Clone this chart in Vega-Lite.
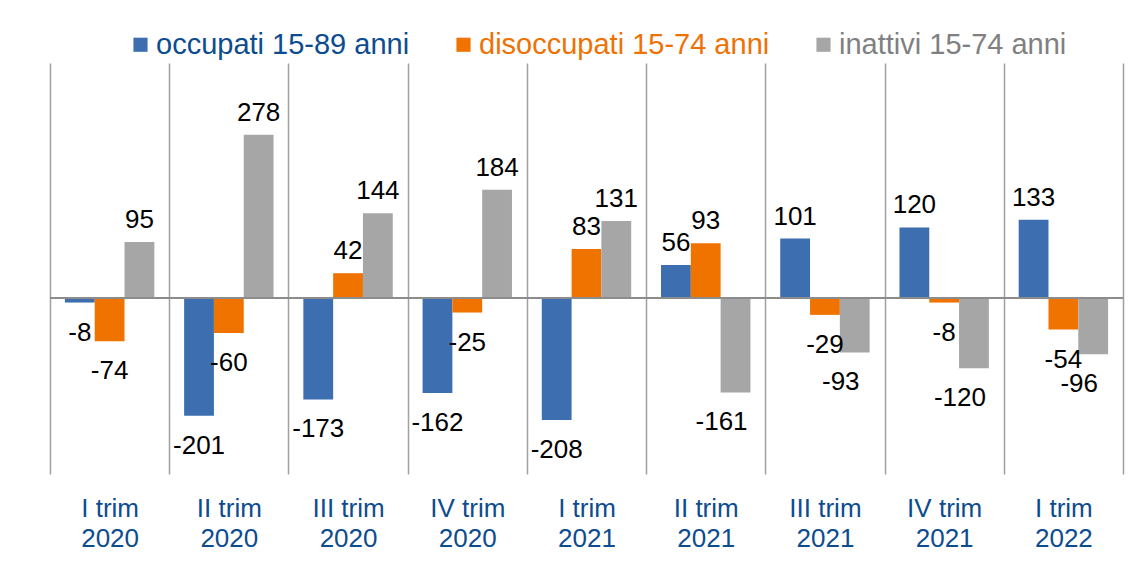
{
  "$schema": "https://vega.github.io/schema/vega-lite/v6.json",
  "autosize": {"type": "none"},
  "width": 1073,
  "height": 411,
  "padding": {"left": 50, "top": 63, "right": 19, "bottom": 96},
  "background": "white",
  "config": {"view": {"stroke": null}, "font": "Liberation Sans"},
  "data": {
    "values": [
      {"trimestre": "I trim 2020", "serie": "occupati 15-89 anni", "valore": -8},
      {"trimestre": "I trim 2020", "serie": "disoccupati 15-74 anni", "valore": -74},
      {"trimestre": "I trim 2020", "serie": "inattivi 15-74 anni", "valore": 95},
      {"trimestre": "II trim 2020", "serie": "occupati 15-89 anni", "valore": -201},
      {"trimestre": "II trim 2020", "serie": "disoccupati 15-74 anni", "valore": -60},
      {"trimestre": "II trim 2020", "serie": "inattivi 15-74 anni", "valore": 278},
      {"trimestre": "III trim 2020", "serie": "occupati 15-89 anni", "valore": -173},
      {"trimestre": "III trim 2020", "serie": "disoccupati 15-74 anni", "valore": 42},
      {"trimestre": "III trim 2020", "serie": "inattivi 15-74 anni", "valore": 144},
      {"trimestre": "IV trim 2020", "serie": "occupati 15-89 anni", "valore": -162},
      {"trimestre": "IV trim 2020", "serie": "disoccupati 15-74 anni", "valore": -25},
      {"trimestre": "IV trim 2020", "serie": "inattivi 15-74 anni", "valore": 184},
      {"trimestre": "I trim 2021", "serie": "occupati 15-89 anni", "valore": -208},
      {"trimestre": "I trim 2021", "serie": "disoccupati 15-74 anni", "valore": 83},
      {"trimestre": "I trim 2021", "serie": "inattivi 15-74 anni", "valore": 131},
      {"trimestre": "II trim 2021", "serie": "occupati 15-89 anni", "valore": 56},
      {"trimestre": "II trim 2021", "serie": "disoccupati 15-74 anni", "valore": 93},
      {"trimestre": "II trim 2021", "serie": "inattivi 15-74 anni", "valore": -161},
      {"trimestre": "III trim 2021", "serie": "occupati 15-89 anni", "valore": 101},
      {"trimestre": "III trim 2021", "serie": "disoccupati 15-74 anni", "valore": -29},
      {"trimestre": "III trim 2021", "serie": "inattivi 15-74 anni", "valore": -93},
      {"trimestre": "IV trim 2021", "serie": "occupati 15-89 anni", "valore": 120},
      {"trimestre": "IV trim 2021", "serie": "disoccupati 15-74 anni", "valore": -8},
      {"trimestre": "IV trim 2021", "serie": "inattivi 15-74 anni", "valore": -120},
      {"trimestre": "I trim 2022", "serie": "occupati 15-89 anni", "valore": 133},
      {"trimestre": "I trim 2022", "serie": "disoccupati 15-74 anni", "valore": -54},
      {"trimestre": "I trim 2022", "serie": "inattivi 15-74 anni", "valore": -96}
    ]
  },
  "encoding": {
    "x": {
      "field": "trimestre",
      "type": "nominal",
      "sort": ["I trim 2020", "II trim 2020", "III trim 2020", "IV trim 2020", "I trim 2021", "II trim 2021", "III trim 2021", "IV trim 2021", "I trim 2022"],
      "scale": {"paddingInner": 0, "paddingOuter": 0},
      "axis": {
        "title": null,
        "grid": true,
        "tickBand": "extent",
        "gridColor": "#a0a0a0",
        "gridWidth": 1.5,
        "domain": false,
        "ticks": false,
        "tickSize": 0,
        "labelAngle": 0,
        "labelFont": "Liberation Sans",
        "labelFontSize": 26,
        "labelColor": "#0d4c8f",
        "labelLineHeight": 30,
        "labelPadding": 21,
        "labelBaseline": "top",
        "labelExpr": "[slice(datum.label, 0, lastindexof(datum.label, ' ')), slice(datum.label, lastindexof(datum.label, ' ') + 1)]"
      }
    },
    "xOffset": {
      "field": "serie",
      "type": "nominal",
      "scale": {"domain": ["occupati 15-89 anni", "disoccupati 15-74 anni", "inattivi 15-74 anni"], "paddingInner": 0, "paddingOuter": 0.5}
    },
    "y": {
      "field": "valore",
      "type": "quantitative",
      "scale": {"domain": [-300, 400], "nice": false, "zero": false},
      "axis": null
    }
  },
  "layer": [
    {
      "mark": {"type": "bar"},
      "encoding": {
        "color": {
          "field": "serie",
          "type": "nominal",
          "scale": {"domain": ["occupati 15-89 anni", "disoccupati 15-74 anni", "inattivi 15-74 anni"], "range": ["#3d6fb0", "#f07300", "#a6a6a6"]},
          "legend": {
            "title": null,
            "orient": "none",
            "direction": "horizontal",
            "legendX": 76,
            "legendY": -33,
            "padding": 0,
            "symbolType": "square",
            "symbolSize": 200,
            "symbolStrokeWidth": 0,
            "labelFont": "Liberation Sans",
            "labelFontSize": 29,
            "labelOffset": 1,
            "columnPadding": 39,
            "labelLimit": 500,
            "encode": {
              "labels": {
                "update": {
                  "fill": {"signal": "datum.value === 'occupati 15-89 anni' ? '#0d4c8f' : datum.value === 'disoccupati 15-74 anni' ? '#ee7203' : '#808080'"}
                }
              }
            }
          }
        }
      }
    },
    {
      "mark": {"type": "rule", "color": "#8c8c8c", "strokeWidth": 1.5},
      "encoding": {"y": {"datum": 0}, "x": null, "xOffset": null}
    },
    {
      "transform": [{"filter": "datum.valore >= 0"}],
      "mark": {"type": "text", "font": "Liberation Sans", "fontSize": 26, "color": "#000000", "baseline": "alphabetic", "dy": -14},
      "encoding": {"text": {"field": "valore", "type": "nominal"}}
    },
    {
      "transform": [{"filter": "datum.valore < 0 && datum.serie !== 'inattivi 15-74 anni'"}],
      "mark": {"type": "text", "font": "Liberation Sans", "fontSize": 26, "color": "#000000", "baseline": "alphabetic", "dy": 38},
      "encoding": {"text": {"field": "valore", "type": "nominal"}}
    },
    {
      "transform": [{"filter": "datum.valore < 0 && datum.serie === 'inattivi 15-74 anni'"}],
      "mark": {"type": "text", "font": "Liberation Sans", "fontSize": 26, "color": "#000000", "baseline": "alphabetic", "dy": 38, "dx": -14},
      "encoding": {"text": {"field": "valore", "type": "nominal"}}
    }
  ]
}
